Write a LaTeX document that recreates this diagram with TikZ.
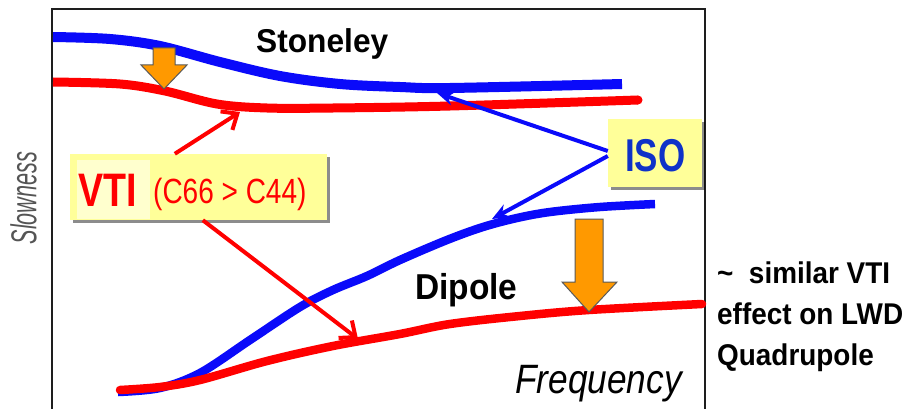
\documentclass[tikz,border=0pt]{standalone}
\usepackage{fontspec}
\setmainfont{Liberation Sans}
\usetikzlibrary{arrows.meta,shadows}
\definecolor{cblue}{RGB}{10,10,250}
\definecolor{cred}{RGB}{255,0,0}
\definecolor{isoblue}{RGB}{15,50,200}
\definecolor{boxyellow}{RGB}{255,255,153}
\definecolor{hiyellow}{RGB}{255,255,206}
\definecolor{corange}{RGB}{255,153,0}
\definecolor{slowgray}{RGB}{85,85,85}
\definecolor{framegray}{RGB}{30,30,30}
\begin{document}
\begin{tikzpicture}[x=1pt,y=-1pt,
  lbl/.style={inner sep=0pt, anchor=base west},
  notebox/.style={fill=boxyellow, draw=none, inner sep=0pt,
    drop shadow={shadow xshift=3pt, shadow yshift=-3pt, opacity=0.45, fill=black}},
  redarrow/.style={draw=cred, line width=4pt, -{Straight Barb[length=13pt,width=22pt,line width=4pt]}},
  bluearrow/.style={draw=cblue, line width=4pt, -{Stealth[length=17pt,width=14pt]}},
  bigarrow/.style={fill=corange, draw=black!65, line width=1pt, line join=miter},
]
\useasboundingbox (0,0) rectangle (909,409);
\fill[white] (0,0) rectangle (909,409);

% frame
\draw[framegray, line width=2pt] (52,409) -- (52,9) -- (705,9) -- (705,409);

% Stoneley curves
\draw[cblue, line width=10pt] plot[smooth, tension=0.55] coordinates
  {(53,37) (110,39) (160,46) (220,62) (280,76) (340,84) (400,87) (450,88) (622,84)};
\draw[cred, line width=9pt] plot[smooth, tension=0.55] coordinates
  {(53,82) (120,84) (165,91) (217,104) (267,108) (333,108) (450,106) (638,100)};
\fill[cred] (638,100) circle (4.5pt);

% Dipole curves
\draw[cblue, line width=8.5pt] plot[smooth, tension=0.55] coordinates
  {(118,392) (160,388) (200,373) (250,340) (300,307) (333,290) (367,276) (400,260) (447,240) (483,227) (517,218) (550,212) (600,207) (655,204)};
\draw[cred, line width=8.5pt, line cap=round] plot[smooth, tension=0.55] coordinates
  {(120,390) (160,387) (200,380) (267,361) (333,346) (400,334) (450,324) (520,316) (589,310) (702,304)};

% orange arrows
\draw[bigarrow] (153,48) -- (175,48) -- (175,65) -- (187,65) -- (164,89) -- (141,65) -- (153,65) -- cycle;
\draw[bigarrow] (575,219) -- (603,219) -- (603,282) -- (617,282) -- (589,312) -- (562,282) -- (575,282) -- cycle;

% arrow targets
\coordinate (stRed) at (240,112);
\coordinate (dpRed) at (358,339);
\coordinate (stBlue) at (437,93);
\coordinate (dpBlue) at (492,219);

% boxes
\node[notebox, minimum width=257pt, minimum height=66pt] (vti) at (198.5,187) {};
\fill[hiyellow] (77,160) rectangle (150,219);
\node[notebox, minimum width=94pt, minimum height=68pt] (iso) at (655,153) {};

% connectors
\draw[redarrow] ([xshift=105pt]vti.north west) -- (stRed);
\draw[redarrow] ([xshift=133pt]vti.south west) -- (dpRed);
\draw[bluearrow] ([yshift=2pt]iso.west) -- (stBlue);
\draw[bluearrow] ([yshift=-3pt]iso.west) -- (dpBlue);

% texts
\node[lbl] (vtit) at (78,206) {\fontsize{47}{50}\selectfont\bfseries\color{cred}\scalebox{0.8}[1]{VTI}};
\node[lbl] (vtic) at (153,203) {\fontsize{35}{40}\selectfont\color{cred}\scalebox{0.8}[1]{(C66 > C44)}};
\node[lbl] (isot) at (625,171) {\fontsize{46}{50}\selectfont\bfseries\color{isoblue}\scalebox{0.76}[1]{ISO}};
\node[lbl] (stone) at (256,53) {\fontsize{33}{36}\selectfont\bfseries\scalebox{0.96}[1]{Stoneley}};
\node[lbl] (dip) at (415,299) {\fontsize{36}{40}\selectfont\bfseries\scalebox{0.93}[1]{Dipole}};
\node[lbl] (freq) at (515,393) {\fontsize{41}{45}\selectfont\itshape\scalebox{0.86}[1]{Frequency}};
\node[inner sep=0pt, rotate=90] (slow) at (23.5,198) {\fontsize{36}{40}\selectfont\itshape\color{slowgray}\scalebox{0.6}[1]{Slowness}};
\node[lbl] (r1) at (717,283) {\fontsize{30}{34}\selectfont\bfseries\scalebox{0.93}[1]{\textasciitilde\ \ similar VTI}};
\node[lbl] (r2) at (717,324) {\fontsize{30}{34}\selectfont\bfseries\scalebox{0.93}[1]{effect on LWD}};
\node[lbl] (r3) at (717,365) {\fontsize{30}{34}\selectfont\bfseries\scalebox{0.93}[1]{Quadrupole}};
\end{tikzpicture}
\end{document}
